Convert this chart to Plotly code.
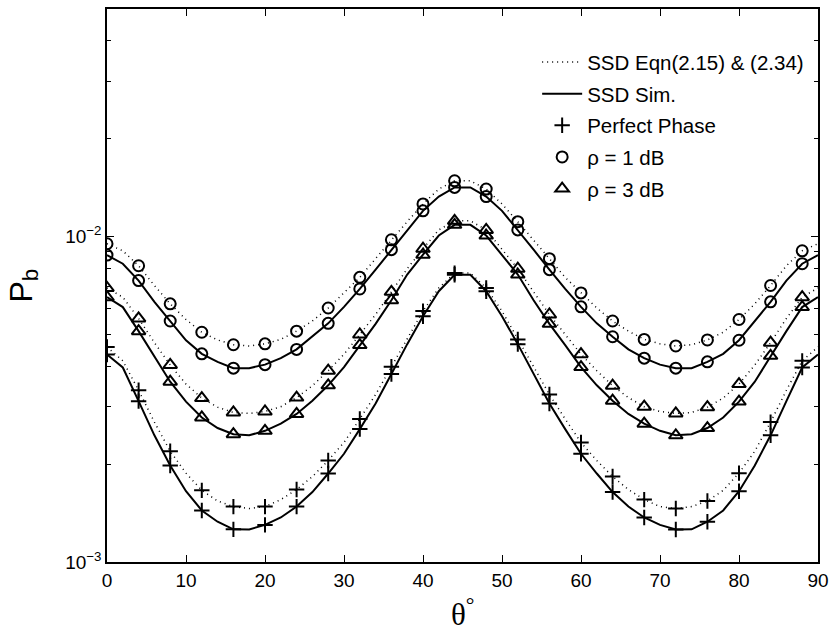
import numpy as np
import plotly.graph_objects as go

# angle samples (degrees) for the curves; markers sit on every other sample (0..88)
theta = list(range(0, 92, 2))

# P_b values in units of 1e-3
pp_eqn = [4.58, 4.15, 3.37, 2.69, 2.19, 1.875, 1.66, 1.54, 1.48, 1.46, 1.48, 1.555, 1.67, 1.83, 2.05, 2.33,
          2.75, 3.27, 3.98, 4.83, 5.90, 6.95, 7.72, 7.72, 6.95, 5.90, 4.83, 3.98, 3.27, 2.75, 2.33, 2.05,
          1.83, 1.67, 1.555, 1.48, 1.46, 1.48, 1.54, 1.66, 1.875, 2.19, 2.69, 3.37, 4.15, 4.58]
pp_sim = [4.34, 3.96, 3.12, 2.45, 1.98, 1.65, 1.44, 1.33, 1.26, 1.259, 1.30, 1.37, 1.48, 1.64, 1.87, 2.15,
          2.56, 3.07, 3.78, 4.67, 5.69, 6.79, 7.63, 7.63, 6.79, 5.69, 4.67, 3.78, 3.07, 2.56, 2.15, 1.87,
          1.64, 1.48, 1.37, 1.30, 1.259, 1.26, 1.33, 1.44, 1.65, 1.98, 2.45, 3.12, 3.96, 4.34]
rho1_eqn = [9.50, 9.04, 8.13, 7.07, 6.21, 5.56, 5.08, 4.81, 4.65, 4.61, 4.68, 4.83, 5.12, 5.50, 6.03, 6.71,
            7.49, 8.55, 9.77, 11.11, 12.59, 13.99, 14.83, 14.83, 13.99, 12.59, 11.11, 9.77, 8.55, 7.49, 6.71,
            6.03, 5.50, 5.12, 4.83, 4.68, 4.61, 4.65, 4.81, 5.08, 5.56, 6.21, 7.07, 8.13, 9.04, 9.50]
rho1_sim = [8.77, 8.25, 7.32, 6.30, 5.50, 4.80, 4.36, 4.12, 3.94, 3.94, 4.04, 4.23, 4.50, 4.92, 5.41, 6.08,
            6.90, 7.91, 9.11, 10.48, 11.99, 13.26, 14.15, 14.15, 13.26, 11.99, 10.48, 9.11, 7.91, 6.90, 6.08,
            5.41, 4.92, 4.50, 4.23, 4.04, 3.94, 3.94, 4.12, 4.36, 4.80, 5.50, 6.30, 7.32, 8.25, 8.77]
rho3_eqn = [6.95, 6.51, 5.60, 4.72, 4.03, 3.52, 3.19, 2.99, 2.88, 2.86, 2.90, 3.00, 3.20, 3.48, 3.87, 4.35,
            5.00, 5.76, 6.76, 7.96, 9.17, 10.48, 11.17, 11.17, 10.48, 9.17, 7.96, 6.76, 5.76, 5.00, 4.35,
            3.87, 3.48, 3.20, 3.00, 2.90, 2.86, 2.88, 2.99, 3.19, 3.52, 4.03, 4.72, 5.60, 6.51, 6.95]
rho3_sim = [6.51, 6.07, 5.12, 4.30, 3.58, 3.11, 2.78, 2.58, 2.47, 2.45, 2.53, 2.66, 2.85, 3.13, 3.49, 3.97,
            4.64, 5.39, 6.37, 7.64, 8.79, 10.07, 10.86, 10.86, 10.07, 8.79, 7.64, 6.37, 5.39, 4.64, 3.97,
            3.49, 3.13, 2.85, 2.66, 2.53, 2.45, 2.47, 2.58, 2.78, 3.11, 3.58, 4.30, 5.12, 6.07, 6.51]

x_ticks = [0, 10, 20, 30, 40, 50, 60, 70, 80, 90]
y_ticks = [1e-3, 1e-2]
y_ticktext = ["10<sup>\u22123</sup>", "10<sup>\u22122</sup>"]
y_minor = [2e-3, 3e-3, 4e-3, 5e-3, 6e-3, 7e-3, 8e-3, 9e-3, 2e-2, 3e-2, 4e-2]

legend_names = ["SSD Eqn(2.15) & (2.34)", "SSD Sim.", "Perfect Phase", "\u03c1 = 1 dB", "\u03c1 = 3 dB"]

DOT = "1px,4px"
FONT = "Liberation Sans, Arial, sans-serif"

fig = go.Figure()

th = np.array(theta)
mk_idx = slice(0, 45, 2)

series = [
    (pp_eqn, pp_sim, "cross-thin", 11),
    (rho1_eqn, rho1_sim, "circle-open", 11),
    (rho3_eqn, rho3_sim, "triangle-up-open", 12),
]

# curves
for k, (eq, sim, sym, sz) in enumerate(series):
    fig.add_trace(go.Scatter(x=theta, y=np.array(eq) * 1e-3, mode="lines",
                             line=dict(color="black", width=1.5, dash=DOT),
                             name=legend_names[0], showlegend=(k == 0), legendgroup="g1"))
    fig.add_trace(go.Scatter(x=theta, y=np.array(sim) * 1e-3, mode="lines",
                             line=dict(color="black", width=2),
                             name=legend_names[1], showlegend=(k == 0), legendgroup="g2"))

# markers
for k, (eq, sim, sym, sz) in enumerate(series):
    for j, vals in enumerate([eq, sim]):
        fig.add_trace(go.Scatter(x=th[mk_idx], y=(np.array(vals) * 1e-3)[mk_idx], mode="markers",
                                 marker=dict(symbol=sym, size=sz, color="black",
                                             line=dict(color="black", width=2)),
                                 name=legend_names[2 + k], showlegend=(j == 0),
                                 legendgroup="g%d" % (3 + k)))

fig.update_layout(
    width=836, height=632,
    margin=dict(l=107, r=13, t=7, b=70),
    paper_bgcolor="white", plot_bgcolor="white",
    font=dict(family=FONT, color="black", size=19),
    showlegend=True,
    legend=dict(x=0.605, y=0.94, xanchor="left", yanchor="top",
                bgcolor="rgba(0,0,0,0)", borderwidth=0,
                font=dict(family=FONT, size=20.5, color="black"),
                traceorder="grouped", tracegroupgap=2, itemwidth=40),
    xaxis=dict(range=[0, 90], tickmode="array", tickvals=x_ticks,
               ticks="inside", ticklen=7, tickwidth=1, tickcolor="black",
               showline=True, linecolor="black", linewidth=1.5, mirror="ticks",
               showgrid=False, zeroline=False,
               tickfont=dict(family=FONT, size=19, color="black")),
    yaxis=dict(type="log", range=[-3, np.log10(0.05)], tickmode="array",
               tickvals=y_ticks, ticktext=y_ticktext,
               ticks="inside", ticklen=7, tickwidth=1, tickcolor="black",
               showline=True, linecolor="black", linewidth=1.5, mirror="ticks",
               showgrid=False, zeroline=False,
               minor=dict(tickmode="array", tickvals=y_minor, ticks="inside", ticklen=4,
                          tickwidth=1, tickcolor="black", showgrid=False),
               tickfont=dict(family=FONT, size=19, color="black")),
    annotations=[
        dict(text="P<sub>b</sub>", xref="paper", yref="paper", x=0, y=0.5,
             xanchor="center", yanchor="middle", xshift=-84, textangle=-90,
             showarrow=False, font=dict(family=FONT, size=32, color="black")),
        dict(text="\u03b8<sup>\u00b0</sup>", xref="paper", yref="paper", x=0.5, y=0,
             xanchor="center", yanchor="top", yshift=-29,
             showarrow=False, font=dict(family="Liberation Serif, Times New Roman, serif",
                                        size=31, color="black")),
    ],
)

fig.write_html("out.html")
